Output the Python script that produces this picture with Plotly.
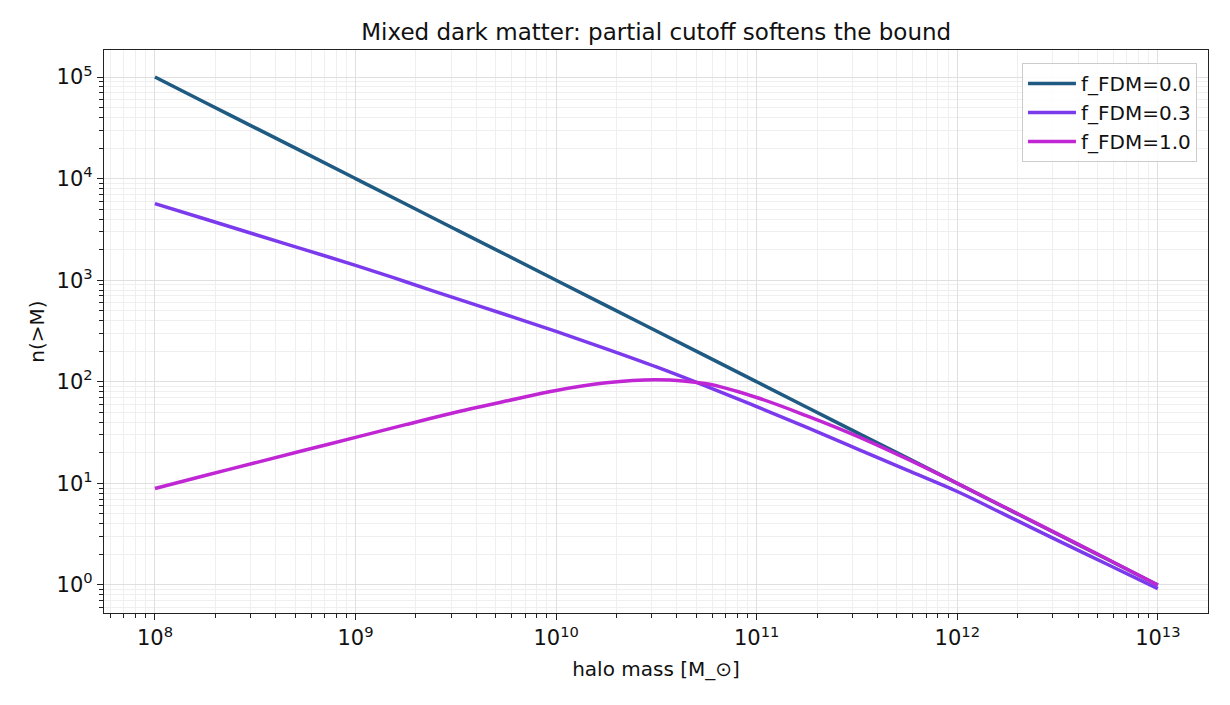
import plotly.graph_objects as go

# halo masses, quarter-decade steps from 1e8 to 1e13 [M_sun]
masses = [1e8, 1.778e8, 3.162e8, 5.623e8,
          1e9, 1.778e9, 3.162e9, 5.623e9,
          1e10, 1.778e10, 3.162e10, 5.623e10,
          1e11, 1.778e11, 3.162e11, 5.623e11,
          1e12, 1.778e12, 3.162e12, 5.623e12,
          1e13]

# cumulative counts n(>M)
n_f00 = [1e5, 56200, 31600, 17800, 1e4, 5620, 3160, 1780, 1000, 562, 316,
         178, 100, 56.2, 31.6, 17.8, 10.0, 5.62, 3.16, 1.78, 1.0]
n_f03 = [5675, 4000, 2818, 1986, 1400, 966, 661, 457, 313, 211, 140,
         90.2, 56.9, 35.5, 21.9, 13.5, 8.32, 4.79, 2.75, 1.59, 0.92]
n_f10 = [8.91, 11.94, 15.96, 21.28, 28.38, 37.84, 50.12, 64.57, 82.2, 97.7,
         104.7, 95.5, 70.0, 46.2, 29.2, 17.4, 10.0, 5.65, 3.18, 1.79, 1.0]

series = [
    ("f_FDM=0.0", n_f00, "#1f5a82"),
    ("f_FDM=0.3", n_f03, "#7c3aed"),
    ("f_FDM=1.0", n_f10, "#c026d3"),
]

x_tickvals = [1e8, 1e9, 1e10, 1e11, 1e12, 1e13]
x_ticktext = ["10<sup>8</sup>", "10<sup>9</sup>", "10<sup>10</sup>",
              "10<sup>11</sup>", "10<sup>12</sup>", "10<sup>13</sup>"]
y_tickvals = [1, 10, 100, 1000, 1e4, 1e5]
y_ticktext = ["10<sup>0</sup>", "10<sup>1</sup>", "10<sup>2</sup>",
              "10<sup>3</sup>", "10<sup>4</sup>", "10<sup>5</sup>"]

fig = go.Figure()
for name, vals, col in series:
    fig.add_trace(go.Scatter(x=masses, y=vals, mode="lines", name=name,
                             line=dict(color=col, width=3.5, shape="spline")))

axis_style = dict(
    type="log",
    showline=True, linecolor="#222222", linewidth=1.3, mirror=True,
    ticks="outside", ticklen=6, tickwidth=1.2, tickcolor="#222222",
    showgrid=True, gridcolor="#e0e0e0", gridwidth=1,
    zeroline=False,
    tickfont=dict(size=21, color="#111111"),
    minor=dict(dtick="D1", ticks="outside", ticklen=3.5, tickwidth=1,
               tickcolor="#222222",
               showgrid=True, gridcolor="#efefef", gridwidth=1),
)

fig.update_xaxes(**axis_style, range=[7.746, 13.25],
                 tickmode="array", tickvals=x_tickvals, ticktext=x_ticktext,
                 title=dict(text="halo mass [M_⊙]", font=dict(size=20), standoff=12))
fig.update_yaxes(**axis_style, range=[-0.276, 5.266],
                 tickmode="array", tickvals=y_tickvals, ticktext=y_ticktext,
                 title=dict(text="n(>M)", font=dict(size=20), standoff=6))

fig.update_layout(
    width=1230, height=705,
    margin=dict(l=96, r=30, t=42, b=100),
    paper_bgcolor="white", plot_bgcolor="white",
    font=dict(family="DejaVu Sans", color="#111111"),
    title=dict(text="Mixed dark matter: partial cutoff softens the bound",
               x=0.527, xanchor="center", y=0.966, yanchor="middle",
               font=dict(size=23)),
    legend=dict(x=0.99, y=0.977, xanchor="right", yanchor="top",
                bgcolor="rgba(255,255,255,0.85)", bordercolor="#cccccc",
                borderwidth=1, font=dict(size=20), itemwidth=48),
    showlegend=True,
)

fig.write_html("out.html")
